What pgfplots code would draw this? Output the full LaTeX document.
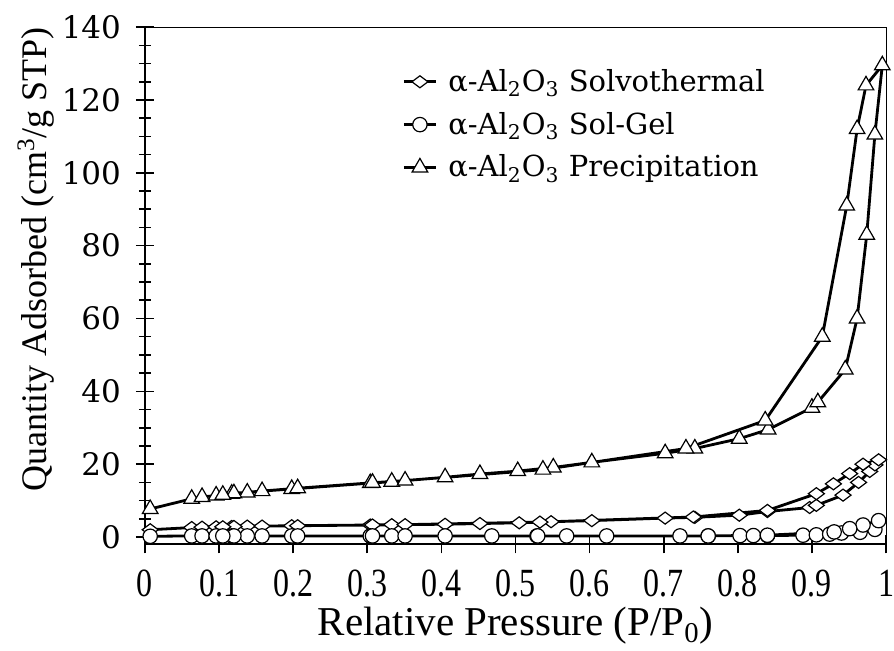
\documentclass[border=0pt]{standalone}
\usepackage{fontspec}
\setmainfont{Liberation Serif}
\newfontfamily\dejavu{DejaVu Serif}
\newfontfamily\narrow[FakeStretch=0.8]{Liberation Serif}
\usepackage{pgfplots}
\pgfplotsset{compat=1.18}
\begin{document}
\begin{tikzpicture}
\path[use as bounding box] (-72.5pt,-52.85pt) rectangle (374.5pt,272.15pt);
\begin{axis}[
  width=370.5pt, height=258.6pt, scale only axis,
  xmin=0, xmax=1, ymin=-2, ymax=140,
  axis x line*=bottom, axis y line*=left,
  axis line style={line width=1pt, -},
  xtick={0,0.1,0.2,0.3,0.4,0.5,0.6,0.7,0.8,0.9,1},
  xticklabels={0,0.1,0.2,0.3,0.4,0.5,0.6,0.7,0.8,0.9,1},
  ytick={0,20,40,60,80,100,120,140},
  yticklabels={0,20,40,60,80,100,120,140},
  minor y tick num=3,
  tick align=center,
  major tick length=9pt, minor tick length=6pt,
  tick style={black, line width=0.8pt},
  xticklabel style={font=\narrow\fontsize{20}{22}\selectfont, anchor=center, yshift=-14.85pt, inner sep=0.5pt},
  yticklabel style={font=\dejavu\fontsize{15.5}{18}\selectfont, anchor=east, xshift=-4pt},
  xlabel={Relative Pressure (P/P\textsubscript{0})},
  ylabel={Quantity Adsorbed (cm\textsuperscript{3}/g STP)},
  xlabel style={font=\fontsize{20.5}{23}\selectfont, at={(rel axis cs:0.5,-0.158)}, anchor=center, inner sep=0.5pt},
  ylabel style={font=\fontsize{18}{22}\selectfont, at={(rel axis cs:-0.1471,0.5505)}, anchor=center},
  legend cell align=left,
  legend style={at={(rel axis cs:0.347,0.927)}, anchor=north west, draw=none, fill=none,
    font=\dejavu\fontsize{14.5}{17}\selectfont, inner sep=0pt, row sep=4.9pt,
    nodes={inner sep=2pt}},
  legend image code/.code={\draw[mark repeat=2,mark phase=2,#1] plot coordinates {(0pt,0pt) (8pt,0pt) (16pt,0pt)}; \path (19.5pt,0pt);},
  clip=false,
  every axis plot/.append style={black, line width=1.4pt},
]
\addplot[mark=diamond*, mark size=4pt, mark options={rotate=90, fill=white, draw=black, solid, line width=0.6pt}]
coordinates {
(0.007,2.0) (0.063,2.6) (0.077,2.7) (0.096,2.8) (0.117,2.9) (0.138,3.0) (0.158,3.0) (0.198,3.1)
(0.304,3.3) (0.333,3.4) (0.405,3.5) (0.452,3.7) (0.505,3.9) (0.548,4.2) (0.603,4.5) (0.702,5.2)
(0.742,5.4) (0.802,6.0) (0.840,7.0) (0.897,8.1) (0.906,8.7) (0.942,11.5) (0.963,15.0) (0.978,18.0)
(0.985,19.8) (0.990,21.2) (0.969,20.0) (0.951,17.4) (0.929,14.6) (0.906,11.9) (0.840,7.3)
(0.740,5.5) (0.533,4.1) (0.351,3.4) (0.307,3.3) (0.206,3.1) (0.120,2.9) (0.105,2.8)
};
\addlegendentry{α-Al\textsubscript{2}O\textsubscript{3} Solvothermal}
\addplot[mark=*, mark size=3.6pt, mark options={fill=white, draw=black, solid, line width=0.6pt}]
coordinates {
(0.007,0.2) (0.063,0.3) (0.077,0.3) (0.096,0.3) (0.117,0.3) (0.138,0.3) (0.158,0.3) (0.198,0.3)
(0.304,0.3) (0.333,0.3) (0.405,0.3) (0.468,0.3) (0.529,0.3) (0.569,0.3) (0.623,0.3) (0.722,0.3)
(0.760,0.3) (0.803,0.4) (0.821,0.4) (0.840,0.4) (0.888,0.5) (0.906,0.6) (0.924,0.8) (0.940,1.1)
(0.965,1.3) (0.985,2.1) (0.990,4.5) (0.969,3.3) (0.951,2.3) (0.930,1.4) (0.840,0.5)
(0.760,0.3) (0.530,0.3) (0.351,0.3) (0.307,0.3) (0.206,0.3) (0.120,0.3) (0.105,0.3)
};
\addlegendentry{α-Al\textsubscript{2}O\textsubscript{3} Sol-Gel}
\addplot[mark=triangle*, mark size=4.5pt, mark options={fill=white, draw=black, solid, line width=0.6pt}]
coordinates {
(0.007,7.7) (0.063,10.5) (0.077,11.0) (0.096,11.4) (0.117,11.9) (0.138,12.2) (0.158,12.6) (0.198,13.2)
(0.304,14.8) (0.333,15.2) (0.405,16.4) (0.452,17.3) (0.503,18.1) (0.551,19.1) (0.603,20.5) (0.702,23.0)
(0.742,24.3) (0.802,27.0) (0.841,29.5) (0.900,35.5) (0.908,37.0) (0.945,46.0) (0.961,60.0) (0.974,83.0)
(0.985,110.5) (0.995,129.5) (0.973,124.0) (0.961,112.0) (0.947,91.0) (0.914,55.0) (0.837,32.0)
(0.730,24.3) (0.537,18.5) (0.351,15.5) (0.307,14.9) (0.206,13.4) (0.120,12.0) (0.105,11.6)
};
\addlegendentry{α-Al\textsubscript{2}O\textsubscript{3} Precipitation}
\draw[line width=0.5pt] (rel axis cs:0,1) -- (rel axis cs:1,1) -- (rel axis cs:1,0);
\end{axis}
\end{tikzpicture}
\end{document}
